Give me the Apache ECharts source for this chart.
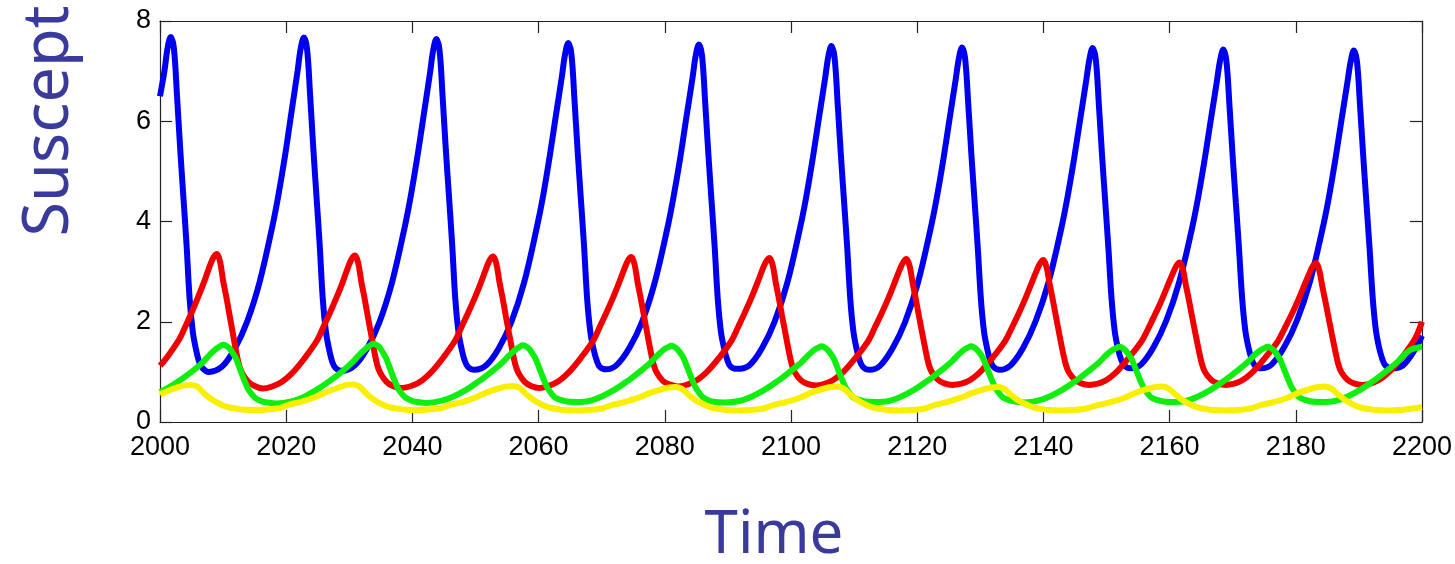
<!DOCTYPE html>
<html>
<head>
<meta charset="utf-8">
<script src="https://cdn.jsdelivr.net/npm/echarts@6/dist/echarts.min.js"></script>
<style>html,body{margin:0;padding:0;background:#fff}#c{width:1455px;height:564px}</style>
</head>
<body>
<div id="c"></div>
<script>
// [year, value] pairs
const blueData = [
[2000,6.5],[2000.7,7.0],[2001.2,7.46],[2001.7,7.68],[2002.2,7.46],[2002.7,6.5],[2003.2,5.45],[2003.7,4.5],[2004.2,3.55],[2004.7,2.45],[2005.2,1.8],[2005.7,1.45],[2006.2,1.2],[2006.7,1.08],[2007.7,1.0],
[2009.8,1.1],[2011.8,1.45],[2013.8,2.0],[2015.8,2.8],[2017.8,3.9],[2018.8,4.55],[2019.8,5.3],[2020.8,6.15],[2021.8,7.0],[2022.3,7.45],[2022.8,7.67],[2023.3,7.45],[2023.8,6.5],[2024.3,5.45],[2024.8,4.5],[2025.3,3.55],[2025.8,2.45],[2026.3,1.8],[2026.8,1.45],[2027.3,1.2],[2027.8,1.08],[2028.8,1.02],
[2030.8,1.12],[2032.8,1.46],[2034.8,2.0],[2036.8,2.8],[2038.8,3.9],[2039.8,4.55],[2040.8,5.3],[2041.8,6.13],[2042.8,6.97],[2043.3,7.42],[2043.8,7.64],[2044.3,7.42],[2044.8,6.47],[2045.3,5.43],[2045.8,4.5],[2046.3,3.55],[2046.8,2.45],[2047.3,1.8],[2047.8,1.46],[2048.3,1.22],[2048.8,1.1],[2049.8,1.04],
[2051.7,1.13],[2053.7,1.47],[2055.7,2.0],[2057.7,2.78],[2059.7,3.87],[2060.7,4.5],[2061.7,5.25],[2062.7,6.08],[2063.7,6.9],[2064.2,7.34],[2064.7,7.56],[2065.2,7.34],[2065.7,6.4],[2066.2,5.38],[2066.7,4.45],[2067.2,3.52],[2067.7,2.45],[2068.2,1.8],[2068.7,1.46],[2069.2,1.23],[2069.7,1.1],[2070.7,1.05],
[2072.4,1.14],[2074.4,1.48],[2076.4,2.0],[2078.4,2.78],[2080.4,3.86],[2081.4,4.5],[2082.4,5.23],[2083.4,6.06],[2084.4,6.87],[2084.9,7.31],[2085.4,7.53],[2085.9,7.31],[2086.4,6.38],[2086.9,5.36],[2087.4,4.43],[2087.9,3.5],[2088.4,2.45],[2088.9,1.8],[2089.4,1.47],[2089.9,1.24],[2090.4,1.11],[2091.4,1.06],
[2093.4,1.13],[2095.4,1.47],[2097.4,2.0],[2099.4,2.77],[2101.4,3.85],[2102.4,4.48],[2103.4,5.22],[2104.4,6.04],[2105.4,6.85],[2105.9,7.28],[2106.4,7.5],[2106.9,7.28],[2107.4,6.35],[2107.9,5.34],[2108.4,4.42],[2108.9,3.5],[2109.4,2.45],[2109.9,1.8],[2110.4,1.46],[2110.9,1.22],[2111.4,1.1],[2112.4,1.04],
[2114.1,1.12],[2116.1,1.47],[2118.1,2.0],[2120.1,2.77],[2122.1,3.84],[2123.1,4.47],[2124.1,5.2],[2125.1,6.02],[2126.1,6.83],[2126.6,7.25],[2127.1,7.47],[2127.6,7.25],[2128.1,6.33],[2128.6,5.32],[2129.1,4.4],[2129.6,3.48],[2130.1,2.45],[2130.6,1.8],[2131.1,1.46],[2131.6,1.22],[2132.1,1.1],[2133.1,1.04],
[2134.8,1.13],[2136.8,1.48],[2138.8,2.02],[2140.8,2.78],[2142.8,3.84],[2143.8,4.47],[2144.8,5.2],[2145.8,6.01],[2146.8,6.82],[2147.3,7.24],[2147.8,7.46],[2148.3,7.24],[2148.8,6.32],[2149.3,5.32],[2149.8,4.4],[2150.3,3.48],[2150.8,2.47],[2151.3,1.82],[2151.8,1.48],[2152.3,1.25],[2152.8,1.13],[2153.8,1.07],
[2155.5,1.15],[2157.5,1.5],[2159.5,2.03],[2161.5,2.78],[2163.5,3.83],[2164.5,4.46],[2165.5,5.19],[2166.5,6.0],[2167.5,6.8],[2168.0,7.21],[2168.5,7.43],[2169.0,7.21],[2169.5,6.3],[2170.0,5.3],[2170.5,4.38],[2171.0,3.47],[2171.5,2.47],[2172.0,1.83],[2172.5,1.49],[2173.0,1.26],[2173.5,1.13],[2174.5,1.07],
[2176.2,1.15],[2178.2,1.5],[2180.2,2.03],[2182.2,2.78],[2184.2,3.83],[2185.2,4.45],[2186.2,5.18],[2187.2,5.99],[2188.2,6.79],[2188.7,7.19],[2189.2,7.41],[2189.7,7.19],[2190.2,6.28],[2190.7,5.29],[2191.2,4.37],[2191.7,3.46],[2192.2,2.47],[2192.7,1.83],[2193.2,1.49],[2193.7,1.26],[2194.2,1.13],[2195.2,1.07],
[2197.0,1.13],[2199.0,1.47],[2200,1.72]
];
const redData = [
[2000,1.12],[2001,1.27],[2003,1.64],[2004,1.9],[2005,2.18],[2006,2.48],[2007,2.8],[2008,3.15],[2008.5,3.29],[2009,3.35],[2009.5,3.21],[2010,2.82],[2010.5,2.5],[2011,2.15],[2011.5,1.8],[2012,1.45],[2012.5,1.15],[2013,0.98],[2014,0.8],[2015,0.72],[2016.3,0.67],
[2018.9,0.77],[2020.9,0.97],[2022.9,1.27],[2024.9,1.63],[2025.9,1.9],[2026.9,2.17],[2027.9,2.46],[2028.9,2.77],[2029.9,3.12],[2030.4,3.26],[2030.9,3.32],[2031.4,3.18],[2031.9,2.8],[2032.4,2.48],[2032.9,2.13],[2033.4,1.79],[2033.9,1.45],[2034.4,1.15],[2034.9,0.98],[2035.9,0.8],[2036.9,0.72],[2038.2,0.68],
[2040.8,0.77],[2042.8,0.97],[2044.8,1.27],[2046.8,1.63],[2047.8,1.9],[2048.8,2.17],[2049.8,2.45],[2050.8,2.76],[2051.8,3.1],[2052.3,3.24],[2052.8,3.3],[2053.3,3.16],[2053.8,2.79],[2054.3,2.47],[2054.8,2.12],[2055.3,1.78],[2055.8,1.45],[2056.3,1.15],[2056.8,0.98],[2057.8,0.8],[2058.8,0.72],[2060.1,0.68],
[2062.7,0.78],[2064.7,0.98],[2066.7,1.28],[2068.7,1.63],[2069.7,1.9],[2070.7,2.17],[2071.7,2.45],[2072.7,2.76],[2073.7,3.09],[2074.2,3.23],[2074.7,3.29],[2075.2,3.15],[2075.7,2.78],[2076.2,2.46],[2076.7,2.12],[2077.2,1.78],[2077.7,1.45],[2078.2,1.16],[2078.7,0.99],[2079.7,0.82],[2080.7,0.75],[2082.0,0.71],
[2084.6,0.8],[2086.6,0.99],[2088.6,1.28],[2090.6,1.63],[2091.6,1.89],[2092.6,2.16],[2093.6,2.44],[2094.6,2.75],[2095.6,3.08],[2096.1,3.21],[2096.6,3.27],[2097.1,3.13],[2097.6,2.77],[2098.1,2.45],[2098.6,2.11],[2099.1,1.78],[2099.6,1.45],[2100.1,1.16],[2100.6,0.99],[2101.6,0.83],[2102.6,0.76],[2103.9,0.73],
[2106.3,0.81],[2108.3,1.0],[2110.3,1.29],[2112.3,1.63],[2113.3,1.89],[2114.3,2.15],[2115.3,2.43],[2116.3,2.74],[2117.3,3.06],[2117.8,3.19],[2118.3,3.25],[2118.8,3.11],[2119.3,2.76],[2119.8,2.44],[2120.3,2.1],[2120.8,1.77],[2121.3,1.45],[2121.8,1.16],[2122.3,1.0],[2123.3,0.84],[2124.3,0.77],[2125.6,0.74],
[2128.0,0.81],[2130.0,1.0],[2132.0,1.29],[2134.0,1.63],[2135.0,1.88],[2136.0,2.14],[2137.0,2.42],[2138.0,2.73],[2139.0,3.04],[2139.5,3.17],[2140.0,3.23],[2140.5,3.09],[2141.0,2.75],[2141.5,2.43],[2142.0,2.1],[2142.5,1.77],[2143.0,1.45],[2143.5,1.17],[2144.0,1.0],[2145.0,0.84],[2146.0,0.77],[2147.3,0.74],
[2149.6,0.81],[2151.6,1.0],[2153.6,1.29],[2155.6,1.62],[2156.6,1.86],[2157.6,2.12],[2158.6,2.39],[2159.6,2.69],[2160.6,2.99],[2161.1,3.12],[2161.6,3.18],[2162.1,3.05],[2162.6,2.72],[2163.1,2.41],[2163.6,2.08],[2164.1,1.76],[2164.6,1.45],[2165.1,1.17],[2165.6,1.0],[2166.6,0.84],[2167.6,0.77],[2168.9,0.74],
[2171.2,0.81],[2173.2,1.0],[2175.2,1.29],[2177.2,1.62],[2178.2,1.86],[2179.2,2.11],[2180.2,2.38],[2181.2,2.68],[2182.2,2.98],[2182.7,3.11],[2183.2,3.17],[2183.7,3.04],[2184.2,2.71],[2184.7,2.4],[2185.2,2.08],[2185.7,1.76],[2186.2,1.45],[2186.7,1.17],[2187.2,1.0],[2188.2,0.84],[2189.2,0.77],[2190.5,0.74],
[2192.9,0.82],[2194.9,1.01],[2196.9,1.3],[2198.9,1.66],[2200,2.0]
];
const greenData = [
[2000,0.6],[2001,0.66],[2003,0.82],[2005,1.0],[2006,1.1],[2007,1.22],[2008,1.36],[2009,1.47],[2009.5,1.51],[2010,1.54],[2010.5,1.52],[2011,1.47],[2011.5,1.38],[2012,1.28],[2012.5,1.12],[2013,0.95],[2013.5,0.79],[2014,0.65],[2015,0.49],[2016,0.42],[2017,0.39],[2018.5,0.37],
[2020.8,0.41],[2022.8,0.5],[2024.8,0.64],[2026.8,0.81],[2028.8,1.0],[2029.8,1.11],[2030.8,1.23],[2031.8,1.37],[2032.8,1.48],[2033.3,1.53],[2033.8,1.56],[2034.3,1.54],[2034.8,1.49],[2035.3,1.39],[2035.8,1.28],[2036.3,1.12],[2036.8,0.95],[2037.3,0.79],[2037.8,0.65],[2038.8,0.5],[2039.8,0.43],[2040.8,0.4],[2042.3,0.38],
[2044.5,0.42],[2046.5,0.51],[2048.5,0.64],[2050.5,0.81],[2052.5,1.0],[2053.5,1.1],[2054.5,1.22],[2055.5,1.35],[2056.5,1.46],[2057.0,1.5],[2057.5,1.53],[2058.0,1.51],[2058.5,1.46],[2059.0,1.37],[2059.5,1.27],[2060.0,1.11],[2060.5,0.95],[2061.0,0.79],[2061.5,0.66],[2062.5,0.5],[2063.5,0.44],[2064.5,0.41],[2066.0,0.4],
[2068.0,0.42],[2070.0,0.51],[2072.0,0.64],[2074.0,0.81],[2076.0,1.0],[2077.0,1.1],[2078.0,1.22],[2079.0,1.35],[2080.0,1.46],[2080.5,1.49],[2081.0,1.52],[2081.5,1.5],[2082.0,1.45],[2082.5,1.37],[2083.0,1.27],[2083.5,1.11],[2084.0,0.95],[2084.5,0.79],[2085.0,0.66],[2086.0,0.5],[2087.0,0.43],[2088.0,0.4],[2089.5,0.39],
[2091.8,0.42],[2093.8,0.51],[2095.8,0.64],[2097.8,0.81],[2099.8,1.0],[2100.8,1.1],[2101.8,1.21],[2102.8,1.34],[2103.8,1.45],[2104.3,1.48],[2104.8,1.51],[2105.3,1.49],[2105.8,1.44],[2106.3,1.36],[2106.8,1.26],[2107.3,1.1],[2107.8,0.94],[2108.3,0.79],[2108.8,0.66],[2109.8,0.5],[2110.8,0.44],[2111.8,0.41],[2113.3,0.4],
[2115.5,0.42],[2117.5,0.51],[2119.5,0.64],[2121.5,0.81],[2123.5,1.0],[2124.5,1.1],[2125.5,1.21],[2126.5,1.34],[2127.5,1.45],[2128.0,1.48],[2128.5,1.51],[2129.0,1.49],[2129.5,1.44],[2130.0,1.36],[2130.5,1.26],[2131.0,1.1],[2131.5,0.94],[2132.0,0.79],[2132.5,0.66],[2133.5,0.5],[2134.5,0.44],[2135.5,0.41],[2137.0,0.39],
[2139.0,0.42],[2141.0,0.51],[2143.0,0.64],[2145.0,0.81],[2147.0,1.0],[2148.0,1.1],[2149.0,1.21],[2150.0,1.34],[2151.0,1.44],[2151.5,1.47],[2152.0,1.5],[2152.5,1.48],[2153.0,1.43],[2153.5,1.35],[2154.0,1.25],[2154.5,1.1],[2155.0,0.94],[2155.5,0.79],[2156.0,0.66],[2157.0,0.5],[2158.0,0.44],[2159.0,0.41],[2160.5,0.4],
[2162.5,0.42],[2164.5,0.51],[2166.5,0.64],[2168.5,0.81],[2170.5,1.0],[2171.5,1.1],[2172.5,1.21],[2173.5,1.34],[2174.5,1.44],[2175.0,1.47],[2175.5,1.5],[2176.0,1.48],[2176.5,1.43],[2177.0,1.35],[2177.5,1.25],[2178.0,1.1],[2178.5,0.94],[2179.0,0.79],[2179.5,0.66],[2180.5,0.5],[2181.5,0.44],[2182.5,0.41],[2184.0,0.4],
[2186.2,0.42],[2188.2,0.51],[2190.2,0.64],[2192.2,0.81],[2194.2,1.0],[2195.2,1.1],[2196.2,1.21],[2197.2,1.34],[2198.2,1.44],[2200,1.5]
];
const yellowData = [
[2000,0.55],[2001,0.61],[2003,0.7],[2004,0.73],[2005,0.74],[2006,0.7],[2007,0.57],[2008,0.47],[2009,0.39],[2010,0.33],[2011,0.29],[2012,0.27],[2013,0.25],[2015,0.24],[2017,0.25],[2019,0.28],
[2020.6,0.35],[2022.6,0.41],[2024.6,0.5],[2026.6,0.61],[2028.6,0.7],[2029.6,0.74],[2030.6,0.75],[2031.6,0.71],[2032.6,0.58],[2033.6,0.47],[2034.6,0.39],[2035.6,0.33],[2036.6,0.29],[2037.6,0.27],[2038.6,0.25],[2040.6,0.24],[2042.6,0.25],[2044.6,0.28],
[2046.0,0.34],[2048.0,0.4],[2050.0,0.49],[2052.0,0.6],[2054.0,0.68],[2055.0,0.71],[2056.0,0.72],[2057.0,0.68],[2058.0,0.56],[2059.0,0.46],[2060.0,0.38],[2061.0,0.32],[2062.0,0.28],[2063.0,0.26],[2064.0,0.24],[2066.0,0.23],[2068.0,0.24],[2070.0,0.27],
[2071.7,0.34],[2073.7,0.4],[2075.7,0.48],[2077.7,0.58],[2079.7,0.66],[2080.7,0.69],[2081.7,0.7],[2082.7,0.66],[2083.7,0.55],[2084.7,0.45],[2085.7,0.38],[2086.7,0.32],[2087.7,0.28],[2088.7,0.26],[2089.7,0.24],[2091.7,0.23],[2093.7,0.24],[2095.7,0.27],
[2097.3,0.34],[2099.3,0.4],[2101.3,0.48],[2103.3,0.59],[2105.3,0.67],[2106.3,0.7],[2107.3,0.71],[2108.3,0.67],[2109.3,0.56],[2110.3,0.46],[2111.3,0.38],[2112.3,0.32],[2113.3,0.28],[2114.3,0.26],[2115.3,0.24],[2117.3,0.23],[2119.3,0.24],[2121.3,0.27],
[2122.8,0.34],[2124.8,0.4],[2126.8,0.48],[2128.8,0.58],[2130.8,0.66],[2131.8,0.69],[2132.8,0.7],[2133.8,0.66],[2134.8,0.55],[2135.8,0.45],[2136.8,0.38],[2137.8,0.32],[2138.8,0.28],[2139.8,0.26],[2140.8,0.24],[2142.8,0.23],[2144.8,0.24],[2146.8,0.27],
[2148.8,0.34],[2150.8,0.4],[2152.8,0.48],[2154.8,0.59],[2156.8,0.67],[2157.8,0.7],[2158.8,0.71],[2159.8,0.67],[2160.8,0.56],[2161.8,0.46],[2162.8,0.38],[2163.8,0.32],[2164.8,0.28],[2165.8,0.26],[2166.8,0.24],[2168.8,0.23],[2170.8,0.24],[2172.8,0.27],
[2174.6,0.34],[2176.6,0.4],[2178.6,0.48],[2180.6,0.59],[2182.6,0.67],[2183.6,0.7],[2184.6,0.71],[2185.6,0.67],[2186.6,0.56],[2187.6,0.46],[2188.6,0.38],[2189.6,0.32],[2190.6,0.28],[2191.6,0.26],[2192.6,0.24],[2194.6,0.23],[2196.6,0.24],[2198.6,0.27],[2200,0.3]
];
const xMin = 2000, xMax = 2200, xStep = 20;
const yMin = 0, yMax = 8, yStep = 2;
const xTitle = 'Time';
const yTitle = 'Suscept';

const chart = echarts.init(document.getElementById('c'), null, {renderer: 'canvas'});
const axisColor = '#222';
const labelFont = {color: '#000', fontSize: 27, fontFamily: '"Liberation Sans", Arial, sans-serif'};
function xAx(pos, showLabel) {
  return {type: 'value', min: xMin, max: xMax, interval: xStep, position: pos,
    axisLine: {show: true, onZero: false, lineStyle: {color: axisColor, width: 1.2}},
    axisTick: {show: true, inside: true, length: 12, lineStyle: {color: axisColor, width: 1.2}},
    axisLabel: Object.assign({show: showLabel, margin: 12, formatter: v => String(v)}, labelFont),
    splitLine: {show: false}};
}
function yAx(pos, showLabel) {
  return {type: 'value', min: yMin, max: yMax, interval: yStep, position: pos,
    axisLine: {show: true, onZero: false, lineStyle: {color: axisColor, width: 1.2}},
    axisTick: {show: true, inside: true, length: 12, lineStyle: {color: axisColor, width: 1.2}},
    axisLabel: Object.assign({show: showLabel, margin: 9, formatter: v => String(v)}, labelFont),
    splitLine: {show: false}};
}
function ser(data, color) {
  return {type: 'line', data: data, showSymbol: false, smooth: 0.35,
    lineStyle: {color: color, width: 6}, itemStyle: {color: color}, animation: false};
}
chart.setOption({
  animation: false,
  backgroundColor: '#ffffff',
  grid: {left: 160, right: 32, top: 21, bottom: 142},
  xAxis: [xAx('bottom', true), xAx('top', false)],
  yAxis: [yAx('left', true), yAx('right', false)],
  series: [
    ser(blueData, '#0000f0'),
    ser(redData, '#f00000'),
    ser(greenData, '#10ee10'),
    ser(yellowData, '#f8f000')
  ],
  graphic: [
    {type: 'text', x: 774, y: 536, style: {text: xTitle, fill: '#3a3a9c', font: '60px "Noto Sans", sans-serif', textAlign: 'center', textVerticalAlign: 'middle'}},
    {type: 'text', x: 50, y: 121, rotation: Math.PI / 2, style: {text: yTitle, fill: '#3a3a9c', font: '63px "Noto Sans", sans-serif', textAlign: 'center', textVerticalAlign: 'middle'}}
  ]
});
</script>
</body>
</html>
